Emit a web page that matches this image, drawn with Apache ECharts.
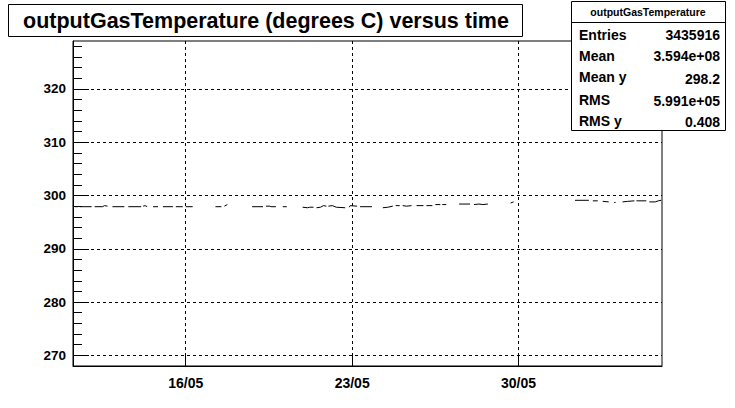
<!DOCTYPE html>
<html>
<head>
<meta charset="utf-8">
<script src="https://cdn.jsdelivr.net/npm/echarts@6/dist/echarts.min.js"></script>
<style>
  html, body { margin: 0; padding: 0; background: #fff; }
  #chart { width: 735px; height: 408px; }
</style>
</head>
<body>
<div id="chart"></div>
<script>
// ---------- data ----------
const chartTitle = 'outputGasTemperature (degrees C) versus time';
const statsTitle = 'outputGasTemperature';
const statsLabels = ['Entries', 'Mean', 'Mean y', 'RMS', 'RMS y'];
const statsValues = ['3435916', '3.594e+08', '298.2', '5.991e+05', '0.408'];

const xTickDates = ['2006-05-16 00:00', '2006-05-23 00:00', '2006-05-30 00:00'];
const xRange = ['2006-05-11 06:10', '2006-06-05 00:50'];
const yMajorTicks = [270, 280, 290, 300, 310, 320];
const yMinorTicks = [268, 272, 274, 276, 278, 282, 284, 286, 288, 292, 294, 296, 298,
                     302, 304, 306, 308, 312, 314, 316, 318, 322, 324, 326, 328];
const yRange = [268, 329];

// time samples (null value = gap in the recording)
const times = [
  '2006-05-11 06:00','2006-05-11 08:00','2006-05-11 11:00','2006-05-11 12:00',
  '2006-05-11 13:00','2006-05-12 01:00','2006-05-12 02:30',
  '2006-05-12 04:00','2006-05-12 12:00','2006-05-12 14:00','2006-05-12 17:00','2006-05-12 19:30',
  '2006-05-12 22:00','2006-05-13 10:00','2006-05-13 12:00',
  '2006-05-13 14:00','2006-05-14 03:00','2006-05-14 04:00',
  '2006-05-14 05:00','2006-05-14 07:00','2006-05-14 09:00','2006-05-14 12:00',
  '2006-05-14 15:00','2006-05-14 20:00','2006-05-14 22:00',
  '2006-05-15 01:00','2006-05-15 11:00','2006-05-15 12:30',
  '2006-05-15 14:00','2006-05-15 21:00','2006-05-15 22:30',
  '2006-05-16 00:00','2006-05-16 07:00','2006-05-16 12:00',
  '2006-05-17 06:00','2006-05-17 12:00','2006-05-17 13:30',
  '2006-05-17 15:00','2006-05-17 18:00','2006-05-18 06:00',
  '2006-05-18 19:00','2006-05-19 06:00','2006-05-19 07:30',
  '2006-05-19 09:00','2006-05-19 13:00','2006-05-19 14:00','2006-05-19 19:00','2006-05-19 22:00',
  '2006-05-20 02:00','2006-05-20 06:00','2006-05-20 14:00',
  '2006-05-20 22:00','2006-05-21 03:00','2006-05-21 05:00','2006-05-21 09:00','2006-05-21 10:30',
  '2006-05-21 12:00','2006-05-21 16:00','2006-05-21 19:00','2006-05-21 22:00','2006-05-21 23:00',
  '2006-05-22 00:00','2006-05-22 04:00','2006-05-22 08:00','2006-05-22 17:00','2006-05-22 19:00',
  '2006-05-22 21:00','2006-05-22 22:00','2006-05-23 05:00','2006-05-23 06:30',
  '2006-05-23 08:00','2006-05-23 20:00','2006-05-24 02:00',
  '2006-05-24 07:00','2006-05-24 12:00','2006-05-24 17:00','2006-05-24 18:30',
  '2006-05-24 20:00','2006-05-25 00:00','2006-05-25 01:30',
  '2006-05-25 03:00','2006-05-25 07:00','2006-05-25 12:00','2006-05-25 14:30',
  '2006-05-25 17:00','2006-05-26 00:00','2006-05-26 01:30',
  '2006-05-26 03:00','2006-05-26 09:00','2006-05-26 10:30',
  '2006-05-26 12:00','2006-05-26 17:00','2006-05-26 18:00',
  '2006-05-26 19:00','2006-05-26 23:00','2006-05-27 06:00',
  '2006-05-27 12:00','2006-05-27 23:00','2006-05-28 01:00',
  '2006-05-28 03:00','2006-05-28 08:00','2006-05-28 12:00','2006-05-28 17:00','2006-05-29 04:00',
  '2006-05-29 16:00','2006-05-29 19:00','2006-05-31 00:00',
  '2006-06-01 09:00','2006-06-01 23:00','2006-06-02 01:00',
  '2006-06-02 03:00','2006-06-02 08:00','2006-06-02 10:30',
  '2006-06-02 13:00','2006-06-02 19:00','2006-06-02 22:00',
  '2006-06-03 00:30','2006-06-03 02:00','2006-06-03 05:00',
  '2006-06-03 09:00','2006-06-03 14:00','2006-06-03 21:00','2006-06-03 22:00',
  '2006-06-03 23:00','2006-06-04 09:00','2006-06-04 10:30',
  '2006-06-04 12:00','2006-06-04 18:00','2006-06-04 21:00','2006-06-05 00:00'
];
const temperatures = [
  298.1, 297.9, 297.9, null,
  297.9, 297.9, null,
  297.9, 297.9, 298.1, 298.0, null,
  297.9, 297.9, null,
  297.9, 297.9, null,
  298.0, 298.1, 297.9, null,
  297.9, 297.9, null,
  297.9, 297.9, null,
  297.9, 297.9, null,
  297.9, 297.9, null,
  297.9, 297.9, null,
  298.0, 298.3, null,
  297.9, 297.9, null,
  298.0, 298.0, 297.9, 297.9, null,
  297.9, 297.9, null,
  297.8, 297.7, 297.8, 297.8, null,
  297.7, 297.8, 298.1, 298.0, null,
  298.0, 298.1, 297.8, 297.7, null,
  297.8, 298.1, 298.0, null,
  297.9, 297.9, null,
  297.7, 297.8, 298.0, null,
  298.1, 298.1, null,
  298.1, 298.0, 298.1, null,
  298.1, 298.1, null,
  298.1, 298.1, null,
  298.3, 298.3, null,
  298.3, 298.3, null,
  298.4, 298.4, null,
  298.3, 298.4, 298.3, 298.4, null,
  298.6, 298.8, null,
  299.1, 299.1, null,
  299.0, 299.0, null,
  298.9, 298.8, null,
  298.7, 298.7, null,
  298.8, 298.9, 299.0, null,
  299.0, 299.0, null,
  298.8, 298.8, 299.0, 299.1
];

// ---------- helpers ----------
function ts(s) {
  const [d, t] = s.split(' ');
  const [Y, M, D] = d.split('-').map(Number);
  const [h, m] = t.split(':').map(Number);
  return new Date(Y, M - 1, D, h, m).getTime();
}
function pad(n) { return (n < 10 ? '0' : '') + n; }

const seriesData = times.map((t, i) => [ts(t), temperatures[i]]);
const xTicks = xTickDates.map(ts);

const FONT = '"Liberation Sans", Arial, Helvetica, sans-serif';
const black = '#000';

const chart = echarts.init(document.getElementById('chart'), null, { renderer: 'svg' });

const graphic = [
  { type: 'rect', z: 100, shape: { x: 8.5, y: 4.5, width: 514, height: 32 },
    style: { fill: '#fff', stroke: black, lineWidth: 1 } },
  { type: 'text', z: 101, x: 266, y: 21,
    style: { text: chartTitle, font: 'bold 21.5px ' + FONT, fill: black, align: 'center', verticalAlign: 'middle' } },
  { type: 'rect', z: 100, shape: { x: 571.5, y: 1.5, width: 154, height: 129 },
    style: { fill: '#fff', stroke: black, lineWidth: 1 } },
  { type: 'line', z: 101, shape: { x1: 571.5, y1: 22.5, x2: 725.5, y2: 22.5 },
    style: { stroke: black, lineWidth: 1 } },
  { type: 'text', z: 101, x: 648, y: 12,
    style: { text: statsTitle, font: 'bold 10.5px ' + FONT, fill: black, align: 'center', verticalAlign: 'middle' } }
];
const rowY = [35, 56, 77, 100, 121];
const valY = [35, 56, 79, 101, 122];
statsLabels.forEach((lab, i) => {
  graphic.push({ type: 'text', z: 101, x: 579, y: rowY[i],
    style: { text: lab, font: 'bold 14px ' + FONT, fill: black, align: 'left', verticalAlign: 'middle' } });
  graphic.push({ type: 'text', z: 101, x: 720, y: valY[i],
    style: { text: statsValues[i], font: 'bold 14px ' + FONT, fill: black, align: 'right', verticalAlign: 'middle' } });
});

const option = {
  animation: false,
  backgroundColor: '#fff',
  grid: { left: 73, right: 73, top: 41, bottom: 42, show: true, borderColor: black, borderWidth: 1,
          backgroundColor: 'transparent', containLabel: false },
  xAxis: {
    type: 'value',
    min: ts(xRange[0]), max: ts(xRange[1]),
    axisLine: { show: true, lineStyle: { color: black, width: 1 } },
    axisTick: { show: true, inside: true, length: 12, lineStyle: { color: black, width: 1 }, customValues: xTicks },
    axisLabel: {
      customValues: xTicks, color: black, fontWeight: 'bold', fontFamily: FONT, fontSize: 14, margin: 10,
      formatter: function (v) { const d = new Date(v); return pad(d.getDate()) + '/' + pad(d.getMonth() + 1); }
    },
    splitLine: { show: true, lineStyle: { color: black, width: 1, type: [3, 3] } },
    minorTick: { show: false }
  },
  yAxis: [
    {
      type: 'value', min: yRange[0], max: yRange[1], position: 'left',
      axisLine: { show: true, lineStyle: { color: black, width: 1 } },
      axisTick: { show: true, inside: true, length: 16, lineStyle: { color: black, width: 1 }, customValues: yMajorTicks },
      axisLabel: { customValues: yMajorTicks, color: black, fontWeight: 'bold', fontFamily: FONT, fontSize: 13.5, margin: 7 },
      splitLine: { show: true, lineStyle: { color: black, width: 1, type: [3, 3] } }
    },
    {
      type: 'value', min: yRange[0], max: yRange[1], position: 'left', offset: 0,
      axisLine: { show: false },
      axisTick: { show: true, inside: true, length: 9, lineStyle: { color: black, width: 1 }, customValues: yMinorTicks },
      axisLabel: { show: false },
      splitLine: { show: false }
    }
  ],
  series: [{
    type: 'line',
    data: seriesData,
    yAxisIndex: 0,
    showSymbol: false,
    symbol: 'none',
    connectNulls: false,
    lineStyle: { color: black, width: 1 },
    z: 5
  }],
  graphic: graphic
};
chart.setOption(option);
</script>
</body>
</html>
